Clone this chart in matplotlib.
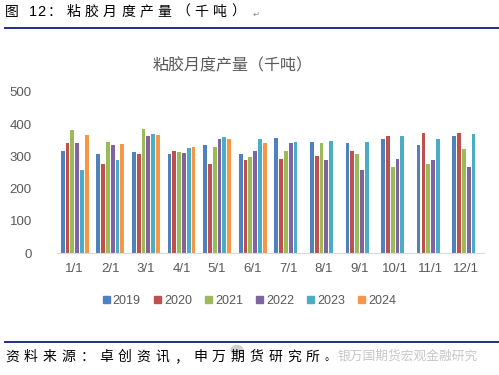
import matplotlib
matplotlib.use("Agg")
import matplotlib.pyplot as plt
import numpy as np
from matplotlib.patches import Rectangle, Circle
from matplotlib.lines import Line2D

plt.rcParams['font.family'] = ['Liberation Sans', 'Noto Sans CJK SC', 'DejaVu Sans']

months = ['1/1', '2/1', '3/1', '4/1', '5/1', '6/1', '7/1', '8/1', '9/1', '10/1', '11/1', '12/1']
years = ['2019', '2020', '2021', '2022', '2023', '2024']

# monthly output, thousand tonnes
y2019 = [317, 306, 314, 306, 335, 306, 356, 346, 340, 353, 335, 362]
y2020 = [343, 277, 306, 317, 277, 289, 293, 300, 317, 362, 373, 373]
y2021 = [383, 346, 386, 314, 329, 299, 317, 340, 308, 267, 276, 324]
y2022 = [343, 336, 362, 309, 353, 317, 340, 290, 258, 293, 289, 267]
y2023 = [258, 289, 370, 326, 359, 353, 346, 349, 346, 362, 353, 370]
y2024 = [365, 339, 365, 329, 353, 340, np.nan, np.nan, np.nan, np.nan, np.nan, np.nan]

series = [y2019, y2020, y2021, y2022, y2023, y2024]
colors = ['#4F81BD', '#C0504D', '#9BBB59', '#8064A2', '#4BACC6', '#F79646']

fig = plt.figure(figsize=(4.99, 3.75), dpi=100)
ax = fig.add_axes([0.114, 0.325, 0.856, 0.43])

x = np.arange(len(months))
step = 0.135
width = 0.105
for i, (vals, c) in enumerate(zip(series, colors)):
    ax.bar(x + (i - 2.5) * step, vals, width=width, color=c, label=years[i])

ax.set_xlim(-0.5, len(months) - 0.5)
ax.set_ylim(0, 500)
ax.set_yticks(range(0, 501, 100))
ax.set_xticks(x)
ax.set_xticklabels(months)
ax.tick_params(axis='both', length=0, labelsize=9.5, colors='#595959')
ax.tick_params(axis='x', pad=7)
ax.tick_params(axis='y', pad=18)
for s in ['top', 'right', 'left']:
    ax.spines[s].set_visible(False)
ax.spines['bottom'].set_color('#d9d9d9')

fig.text(0.467, 0.824, '粘胶月度产量（千吨）', ha='center', va='center',
         fontsize=11.5, color='#595959')

# legend
handles = [Rectangle((0, 0), 1, 1, color=c) for c in colors]
leg = fig.legend(handles, years, loc='center', bbox_to_anchor=(0.5, 0.198), ncol=6,
                 frameon=False, fontsize=9, handlelength=0.55, handleheight=0.55,
                 handletextpad=0.25, columnspacing=1.05)
for t in leg.get_texts():
    t.set_color('#595959')


def spaced_text(x0, y0, s, pitch, **kw):
    # draw text one character at a time with a fixed pitch (px)
    W = fig.get_figwidth() * fig.dpi
    xp = x0
    for ch in s:
        fig.text(xp / W, y0, ch, ha='left', va='center', **kw)
        if ch.isdigit():
            xp += pitch * 0.5
        else:
            xp += pitch
    return xp


# header
spaced_text(5, 1 - 12 / 375, '图', 17, fontsize=10, color='black')
spaced_text(29, 1 - 12 / 375, '12', 17, fontsize=10.5, color='black')
spaced_text(48, 1 - 12 / 375, '：粘胶月度产量（千吨）', 18.3, fontsize=10, color='black')
fig.text(253 / 499, 1 - 14 / 375, '↵', fontsize=6, color='#888888', va='center',
         family=['DejaVu Sans'])
fig.add_artist(Line2D([5 / 499, 1], [1 - 28 / 375] * 2, color='#1f2f8f', lw=1.4))

# footer
fig.add_artist(Line2D([5 / 499, 1], [1 - 342 / 375] * 2, color='#1f2f8f', lw=1.4))
fig.add_artist(Circle((237 / 499, 1 - 350 / 375), 0.012, transform=fig.transFigure,
                      color='#d0d0d0'))
xe = spaced_text(5, 1 - 357 / 375, '资料来源：卓创资讯，申万期货研究所', 18.8, fontsize=10,
                 color='black')
fig.text(xe / 499, 1 - 357 / 375, '。', fontsize=7.5, color='black', va='center')
fig.text(338 / 499, 1 - 356 / 375, '银万国期货宏观金融研究', fontsize=9.2, color='#c8c8c8',
         va='center')

fig.savefig('out.png', dpi=100)
